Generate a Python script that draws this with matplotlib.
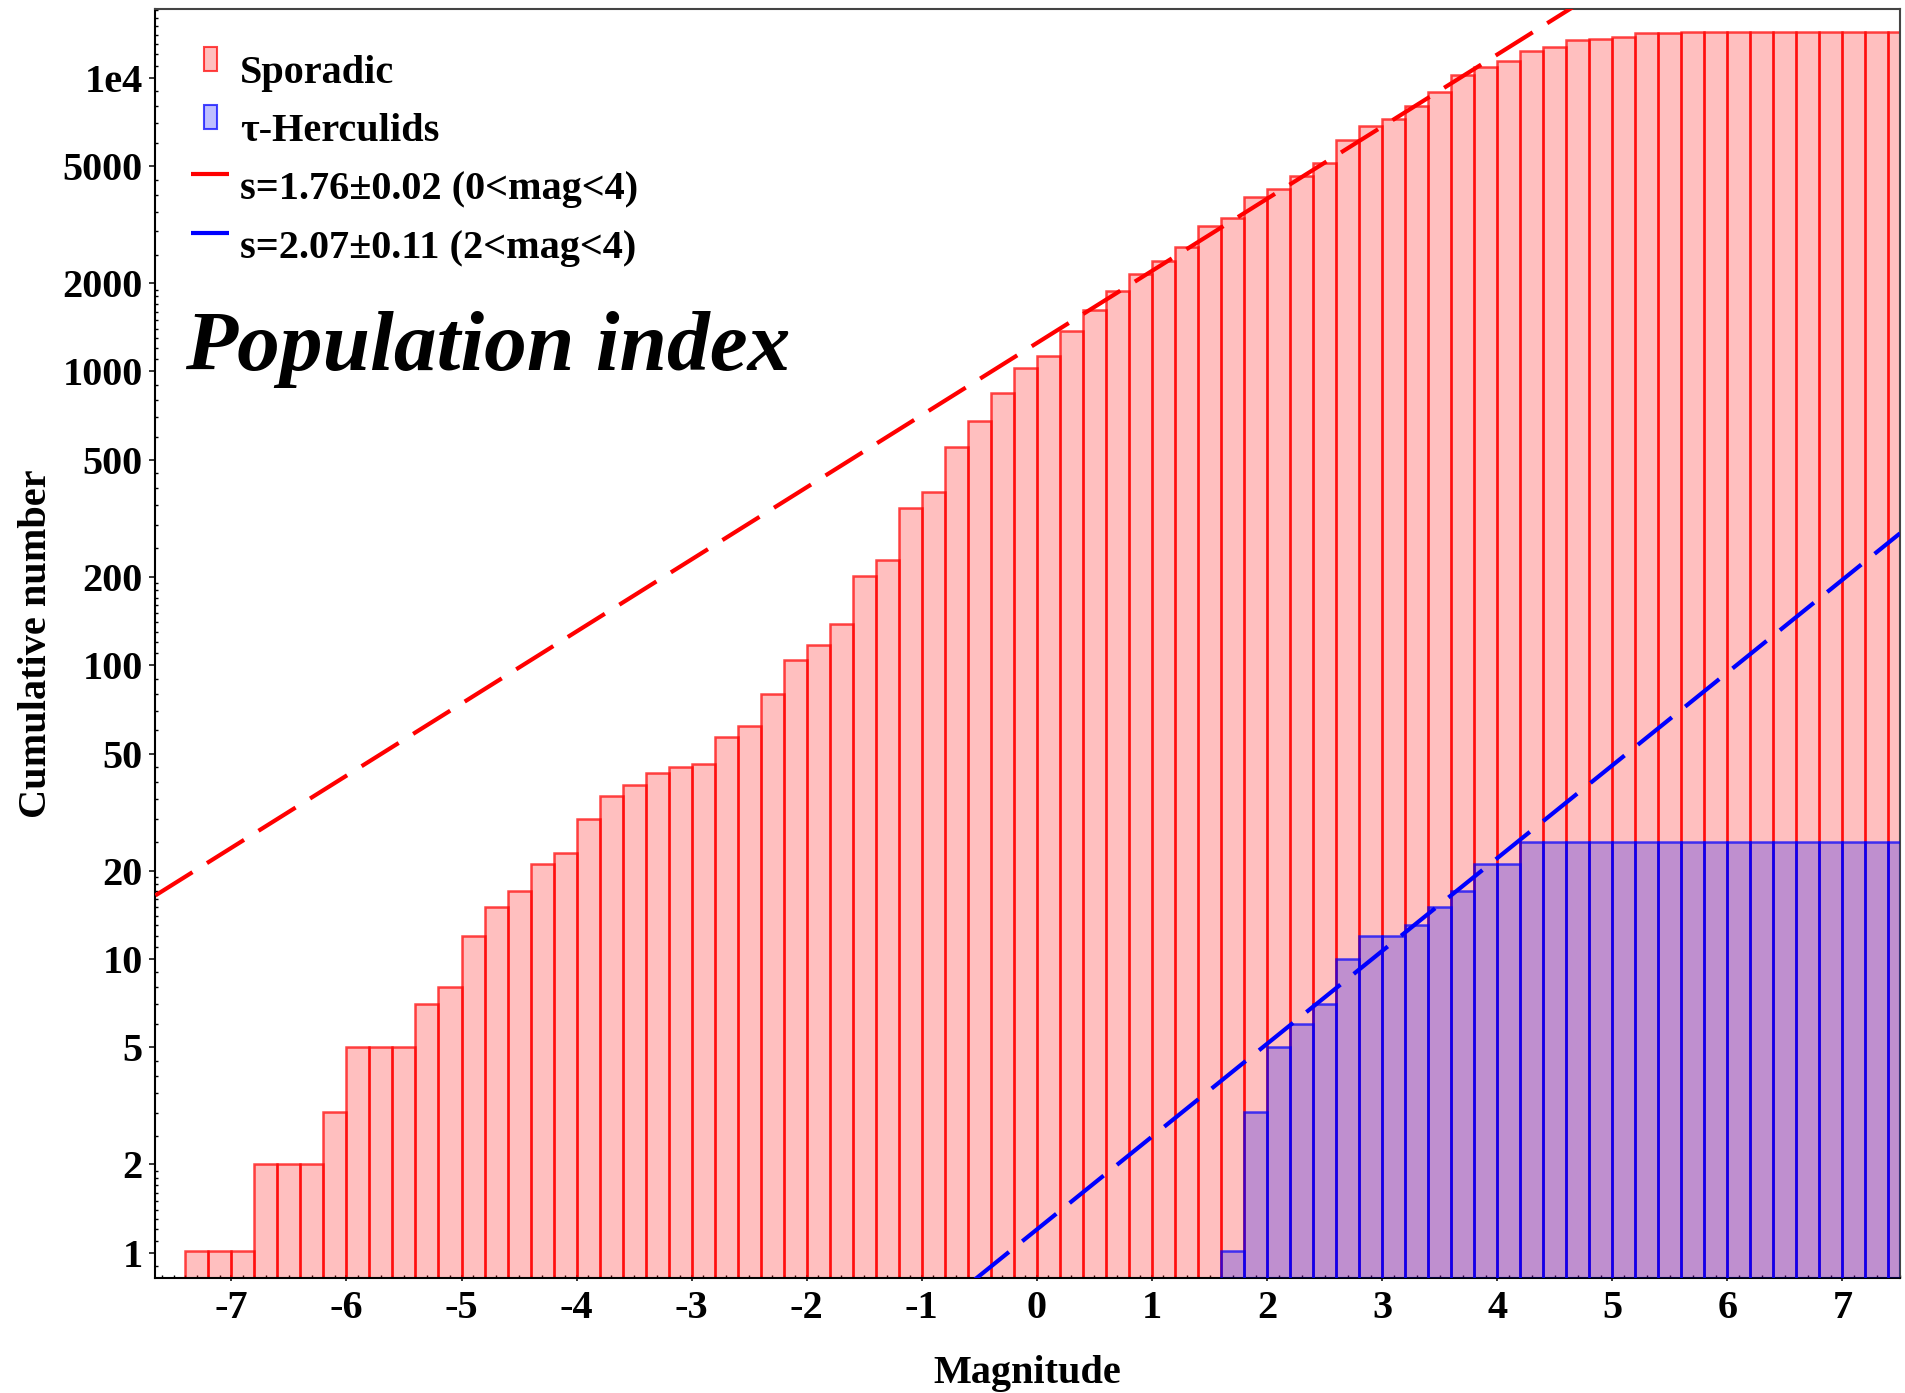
import numpy as np
import matplotlib
matplotlib.use("Agg")
import matplotlib.pyplot as plt
from matplotlib.patches import Rectangle
from matplotlib.lines import Line2D
from matplotlib.legend_handler import HandlerBase
from matplotlib.ticker import FixedLocator, NullFormatter, MultipleLocator

# ---- data -----------------------------------------------------------------
bin_width = 0.2
sporadic_left = np.round(np.arange(-7.4, 7.41, bin_width), 1)
sporadic_cum = [
    1, 1, 1, 2, 2, 2, 3, 5,
    5, 5, 7, 8, 12, 15, 17, 21,
    23, 30, 36, 39, 43, 45, 46, 57,
    62, 80, 104, 117, 138, 201, 229, 343,
    389, 552, 676, 848, 1025, 1128, 1377, 1621,
    1881, 2148, 2386, 2651, 3132, 3326, 3939, 4176,
    4634, 5145, 6148, 6861, 7247, 8018, 8974, 10200,
    10920, 11420, 12380, 12750, 13390, 13600, 13750, 14190,
    14190, 14320, 14320, 14320, 14320, 14320, 14320, 14320,
    14320, 14320, 14320,
]
herculid_left = np.round(np.arange(1.6, 7.41, bin_width), 1)
herculid_cum = [
    1, 3, 5, 6, 7, 10, 12, 12, 13, 15, 17, 21, 21,
    25, 25, 25, 25, 25, 25, 25, 25, 25, 25, 25, 25, 25, 25, 25, 25, 25,
]

# power-law fits  N(m) = N0 * s**m
red_s, red_n0 = 1.76, 1250.0
blue_s, blue_n0 = 2.07, 1.2

labels = ["Sporadic", "\u03c4-Herculids",
          "s=1.76\u00b10.02 (0<mag<4)", "s=2.07\u00b10.11 (2<mag<4)"]

xticks = list(range(-7, 8))
yticks = [1, 2, 5, 10, 20, 50, 100, 200, 500, 1000, 2000, 5000, 10000]
yticklabels = ["1", "2", "5", "10", "20", "50", "100", "200", "500",
               "1000", "2000", "5000", "1e4"]

# ---- style ----------------------------------------------------------------
FONT = "Liberation Serif"
FS = 29
plt.rcParams["font.family"] = [FONT, "DejaVu Serif"]
plt.rcParams["font.weight"] = "bold"

W, H = 1905, 1393
fig = plt.figure(figsize=(W / 100, H / 100), dpi=100)
ax_l, ax_r, ax_t, ax_b = 155.4, 1900.0, 9.3, 1278.0
ax = fig.add_axes([ax_l / W, 1 - ax_b / H, (ax_r - ax_l) / W, (ax_b - ax_t) / H])

xmin, xmax = -7.66, 7.5
ax.set_xlim(xmin, xmax)
ax.set_yscale("log")
ax.set_ylim(0.82, 17100)

red_face = (1.0, 0.0, 0.0, 0.25)
red_edge = (1.0, 0.0, 0.0, 0.72)
blue_face = (0.0, 0.0, 1.0, 0.25)
blue_edge = (0.0, 0.0, 1.0, 0.72)

bars_sp = ax.bar(sporadic_left, sporadic_cum, width=bin_width, align="edge",
                 bottom=0.01, color=red_face, edgecolor=red_edge, linewidth=1.8,
                 zorder=2)
bars_tau = ax.bar(herculid_left, herculid_cum, width=bin_width, align="edge",
                  bottom=0.01, color=blue_face, edgecolor=blue_edge, linewidth=1.8,
                  zorder=3)

m = np.array([xmin, xmax])
line_red, = ax.plot(m, red_n0 * red_s ** m, color="red", lw=3.0,
                    dashes=(10.5, 4.1), zorder=4)
line_blue, = ax.plot(m, blue_n0 * blue_s ** m, color="blue", lw=3.0,
                     dashes=(10.5, 4.1), zorder=4)

# ---- ticks ----------------------------------------------------------------
ax.set_xticks(xticks)
ax.set_xticklabels([str(v) for v in xticks])
ax.xaxis.set_minor_locator(MultipleLocator(0.1))

ax.yaxis.set_major_locator(FixedLocator(yticks))
ax.set_yticklabels(yticklabels)
minor_y = [0.9]
for d in [1, 10, 100, 1000, 10000]:
    minor_y += [d * v for v in (1.1, 1.2, 1.3, 1.4, 1.5, 1.6, 1.7, 1.8, 1.9,
                                2.5, 3, 3.5, 4, 4.5, 6, 7, 8, 9)]
ax.yaxis.set_minor_locator(FixedLocator(minor_y))
ax.yaxis.set_minor_formatter(NullFormatter())

ax.tick_params(axis="x", which="major", direction="inout", length=5, width=1.1,
               pad=6, labelsize=FS)
ax.tick_params(axis="y", which="major", direction="out", length=4, width=1.1,
               pad=5, labelsize=FS)
ax.tick_params(which="minor", direction="in", length=2.5, width=1.0)
ax.tick_params(top=False, right=False, which="both")
for lab in ax.get_xticklabels() + ax.get_yticklabels():
    lab.set_fontweight("bold")
    lab.set_fontfamily(FONT)

for side in ["left", "bottom"]:
    ax.spines[side].set_linewidth(1.5)
    ax.spines[side].set_color("black")
for side in ["top", "right"]:
    ax.spines[side].set_linewidth(1.5)
    ax.spines[side].set_color("#444444")

ax.set_xlabel("Magnitude", fontsize=FS, fontweight="bold", family=FONT)
ax.set_ylabel("Cumulative number", fontsize=FS, fontweight="bold", family=FONT)
ax.xaxis.set_label_coords(0.5, -0.061)
ax.yaxis.set_label_coords(-0.0575, 0.5)

ax.text(0.017, 0.7157, "Population index", transform=ax.transAxes,
        fontsize=61.5, fontweight="bold", fontstyle="italic", family=FONT,
        va="baseline", ha="left", zorder=6)


# ---- legend with narrow bar keys and short line keys -------------------------
class BarKey(HandlerBase):
    def create_artists(self, legend, orig, xdescent, ydescent, width, height,
                       fontsize, trans):
        w, h = 0.32 * fontsize, 0.6 * fontsize
        r = Rectangle((width / 2 - w / 2 - xdescent, 0.3 * fontsize - ydescent),
                      w, h, facecolor=orig.get_facecolor(),
                      edgecolor=orig.get_edgecolor(), linewidth=1.5,
                      transform=trans)
        return [r]


class LineKey(HandlerBase):
    def create_artists(self, legend, orig, xdescent, ydescent, width, height,
                       fontsize, trans):
        y = 0.62 * fontsize - ydescent
        ln = Line2D([-xdescent + 0.03 * width, -xdescent + 0.97 * width], [y, y],
                    color=orig.get_color(), lw=3.0, solid_capstyle="butt",
                    transform=trans)
        return [ln]


leg = ax.legend([bars_sp.patches[0], bars_tau.patches[0], line_red, line_blue],
                labels,
                handler_map={Rectangle: BarKey(), Line2D: LineKey()},
                loc="upper left", bbox_to_anchor=(190 / W, 1 - 55 / H),
                bbox_transform=fig.transFigure, frameon=False, borderpad=0,
                borderaxespad=0, handlelength=1.0, handletextpad=0.25,
                labelspacing=0.52,
                prop={"family": FONT, "weight": "bold", "size": FS})
leg.set_zorder(7)

fig.savefig("out.png", dpi=100)
